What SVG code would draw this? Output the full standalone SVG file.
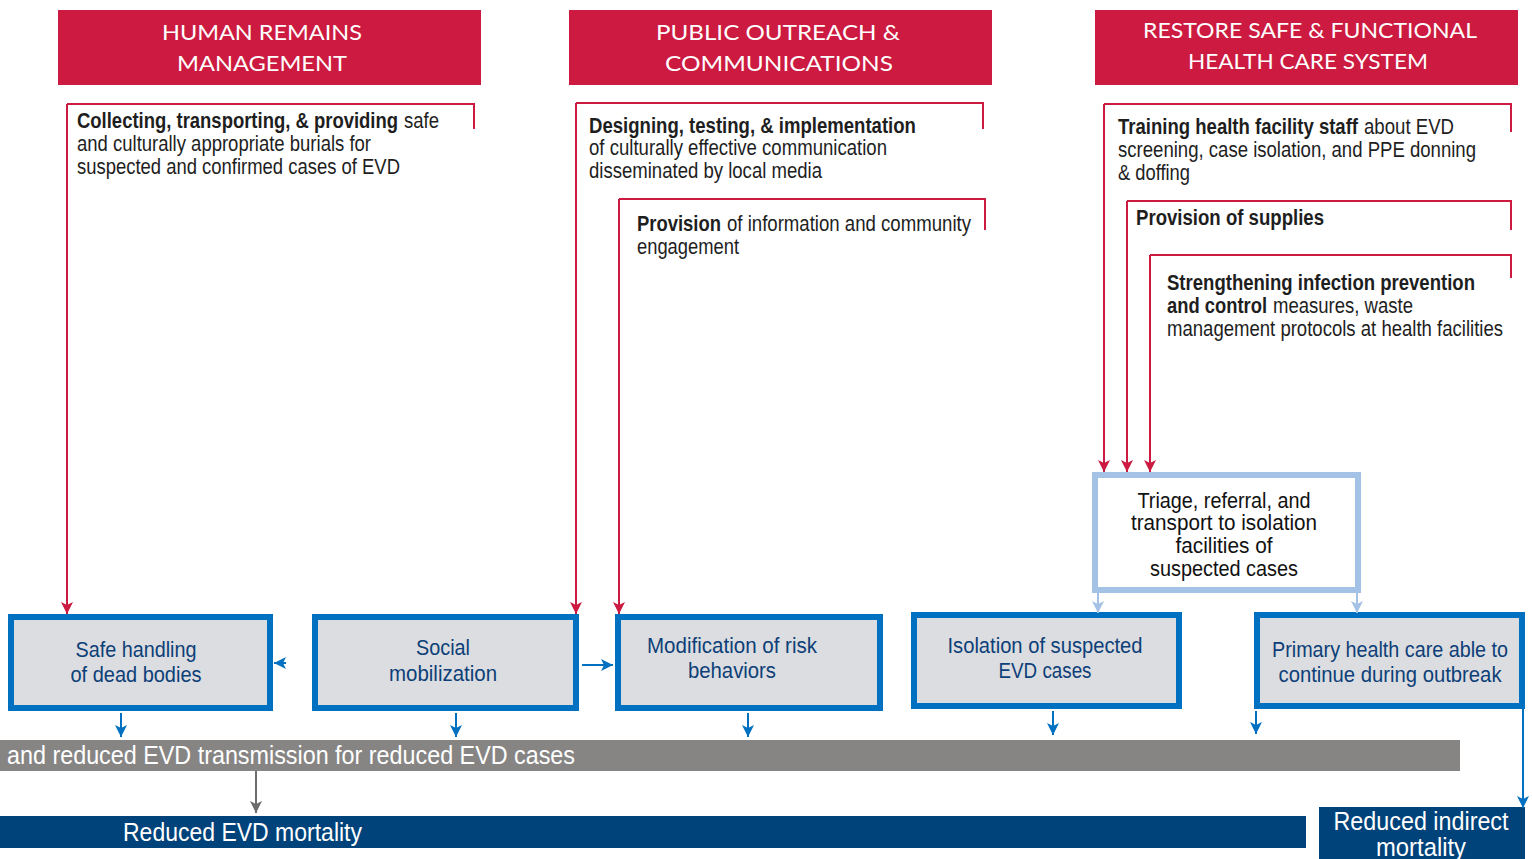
<svg xmlns="http://www.w3.org/2000/svg" width="1532" height="859" viewBox="0 0 1532 859">
<style>
.hdr{fill:#cc1a40}
.hdrt{font-family:"Lato","Open Sans",sans-serif;font-size:21px;fill:#fff;text-anchor:middle}
.body{font-family:"Liberation Sans Narrow","Liberation Sans",Arial,sans-serif;font-size:22px;fill:#1e1e1e}
.b{font-weight:bold}
.red{fill:none;stroke:#cc1a40;stroke-width:2}
.box{fill:#dcdde0;stroke:#0070c0;stroke-width:6}
.boxt{font-family:"Liberation Sans Narrow","Liberation Sans",Arial,sans-serif;font-size:22px;fill:#0d3f78;text-anchor:middle}
.tri{fill:#fff;stroke:#a4c2e6;stroke-width:6}
.trit{font-family:"Liberation Sans Narrow","Liberation Sans",Arial,sans-serif;font-size:22px;fill:#111;text-anchor:middle}
.wt{font-family:"Liberation Sans Narrow","Liberation Sans",Arial,sans-serif;font-size:25px;fill:#fff}
.bl{fill:none;stroke:#0070c0;stroke-width:2}
.lb{fill:none;stroke:#a4c2e6;stroke-width:2}
.gr{fill:none;stroke:#6d6d6d;stroke-width:2}
</style>
<defs>
<marker id="ar" viewBox="0 0 12 12" refX="12" refY="6" markerWidth="12" markerHeight="12" markerUnits="userSpaceOnUse" orient="auto"><path d="M0,0 L12,6 L0,12 L3,6 z" fill="#cc1a40"/></marker>
<marker id="ab" viewBox="0 0 12 12" refX="12" refY="6" markerWidth="12" markerHeight="12" markerUnits="userSpaceOnUse" orient="auto"><path d="M0,0 L12,6 L0,12 L3,6 z" fill="#0070c0"/></marker>
<marker id="al" viewBox="0 0 12 12" refX="12" refY="6" markerWidth="12" markerHeight="12" markerUnits="userSpaceOnUse" orient="auto"><path d="M0,0 L12,6 L0,12 L3,6 z" fill="#a4c2e6"/></marker>
<marker id="ag" viewBox="0 0 12 12" refX="12" refY="6" markerWidth="12" markerHeight="12" markerUnits="userSpaceOnUse" orient="auto"><path d="M0,0 L12,6 L0,12 L3,6 z" fill="#6d6d6d"/></marker>
</defs>
<rect width="1532" height="859" fill="#fff"/>

<g id="header-human-remains">
<rect class="hdr" x="58" y="10" width="423" height="75"/>
<text class="hdrt" x="262" y="40" textLength="200" lengthAdjust="spacingAndGlyphs">HUMAN REMAINS</text>
<text class="hdrt" x="262" y="71" textLength="170" lengthAdjust="spacingAndGlyphs">MANAGEMENT</text>
</g>
<g id="header-public-outreach">
<rect class="hdr" x="569" y="10" width="423" height="75"/>
<text class="hdrt" x="778" y="40" textLength="244" lengthAdjust="spacingAndGlyphs">PUBLIC OUTREACH &amp;</text>
<text class="hdrt" x="779" y="71" textLength="228" lengthAdjust="spacingAndGlyphs">COMMUNICATIONS</text>
</g>
<g id="header-restore">
<rect class="hdr" x="1095" y="10" width="423" height="75"/>
<text class="hdrt" x="1310" y="38" textLength="334" lengthAdjust="spacingAndGlyphs">RESTORE SAFE &amp; FUNCTIONAL</text>
<text class="hdrt" x="1308" y="69" textLength="240" lengthAdjust="spacingAndGlyphs">HEALTH CARE SYSTEM</text>
</g>

<g id="activity-collecting">
<path class="red" d="M474,129 V104 H67"/>
<text class="body b" transform="translate(77,128) scale(0.7,1)" textLength="458.6" lengthAdjust="spacingAndGlyphs">Collecting, transporting, &amp; providing</text>
<text class="body" transform="translate(404,128) scale(0.8,1)" textLength="43.75" lengthAdjust="spacingAndGlyphs">safe</text>
<text class="body" transform="translate(77,151) scale(0.8,1)" textLength="367.5" lengthAdjust="spacingAndGlyphs">and culturally appropriate burials for</text>
<text class="body" transform="translate(77,174) scale(0.8,1)" textLength="403.75" lengthAdjust="spacingAndGlyphs">suspected and confirmed cases of EVD</text>
</g>
<g id="activity-designing">
<path class="red" d="M983,129 V103 H576"/>
<text class="body b" transform="translate(589,133) scale(0.7,1)" textLength="467.1" lengthAdjust="spacingAndGlyphs">Designing, testing, &amp; implementation</text>
<text class="body" transform="translate(589,155) scale(0.8,1)" textLength="372.5" lengthAdjust="spacingAndGlyphs">of culturally effective communication</text>
<text class="body" transform="translate(589,178) scale(0.8,1)" textLength="291.25" lengthAdjust="spacingAndGlyphs">disseminated by local media</text>
</g>
<g id="activity-provision-info">
<path class="red" d="M985,230 V199 H619"/>
<text class="body b" transform="translate(637,231) scale(0.7,1)" textLength="120" lengthAdjust="spacingAndGlyphs">Provision</text>
<text class="body" transform="translate(727,231) scale(0.8,1)" textLength="305" lengthAdjust="spacingAndGlyphs">of information and community</text>
<text class="body" transform="translate(637,254) scale(0.8,1)" textLength="127.5" lengthAdjust="spacingAndGlyphs">engagement</text>
</g>
<g id="activity-training">
<path class="red" d="M1511,132 V104 H1104"/>
<text class="body b" transform="translate(1118,134) scale(0.7,1)" textLength="342.9" lengthAdjust="spacingAndGlyphs">Training health facility staff</text>
<text class="body" transform="translate(1364,134) scale(0.8,1)" textLength="112.5" lengthAdjust="spacingAndGlyphs">about EVD</text>
<text class="body" transform="translate(1118,157) scale(0.8,1)" textLength="447.5" lengthAdjust="spacingAndGlyphs">screening, case isolation, and PPE donning</text>
<text class="body" transform="translate(1118,180) scale(0.8,1)" textLength="90" lengthAdjust="spacingAndGlyphs">&amp; doffing</text>
</g>
<g id="activity-supplies">
<path class="red" d="M1511,230 V201 H1127"/>
<text class="body b" transform="translate(1136,225) scale(0.7,1)" textLength="268.6" lengthAdjust="spacingAndGlyphs">Provision of supplies</text>
</g>
<g id="activity-ipc">
<path class="red" d="M1511,278 V255 H1150"/>
<text class="body b" transform="translate(1167,290) scale(0.7,1)" textLength="440" lengthAdjust="spacingAndGlyphs">Strengthening infection prevention</text>
<text class="body b" transform="translate(1167,313) scale(0.7,1)" textLength="142.9" lengthAdjust="spacingAndGlyphs">and control</text>
<text class="body" transform="translate(1273,313) scale(0.8,1)" textLength="175" lengthAdjust="spacingAndGlyphs">measures, waste</text>
<text class="body" transform="translate(1167,336) scale(0.8,1)" textLength="420" lengthAdjust="spacingAndGlyphs">management protocols at health facilities</text>
</g>

<g id="triage">
<rect class="tri" x="1095" y="475" width="263" height="115"/>
<text class="trit" transform="translate(1224,508) scale(0.8,1)" textLength="216.25" lengthAdjust="spacingAndGlyphs">Triage, referral, and</text>
<text class="trit" transform="translate(1224,530) scale(0.8,1)" textLength="232.5" lengthAdjust="spacingAndGlyphs">transport to isolation</text>
<text class="trit" transform="translate(1224,553) scale(0.8,1)" textLength="121.25" lengthAdjust="spacingAndGlyphs">facilities of</text>
<text class="trit" transform="translate(1224,576) scale(0.8,1)" textLength="185" lengthAdjust="spacingAndGlyphs">suspected cases</text>
</g>

<g id="safe-handling">
<rect class="box" x="11" y="617" width="259" height="91"/>
<text class="boxt" transform="translate(136,657) scale(0.8,1)" textLength="151.25" lengthAdjust="spacingAndGlyphs">Safe handling</text>
<text class="boxt" transform="translate(136,682) scale(0.8,1)" textLength="163.75" lengthAdjust="spacingAndGlyphs">of dead bodies</text>
</g>
<g id="social-mobilization">
<rect class="box" x="315" y="617" width="261" height="91"/>
<text class="boxt" transform="translate(443,655) scale(0.8,1)" textLength="67.5" lengthAdjust="spacingAndGlyphs">Social</text>
<text class="boxt" transform="translate(443,681) scale(0.8,1)" textLength="135" lengthAdjust="spacingAndGlyphs">mobilization</text>
</g>
<g id="modification">
<rect class="box" x="618" y="617" width="262" height="91"/>
<text class="boxt" transform="translate(732,653) scale(0.8,1)" textLength="212.5" lengthAdjust="spacingAndGlyphs">Modification of risk</text>
<text class="boxt" transform="translate(732,678) scale(0.8,1)" textLength="110" lengthAdjust="spacingAndGlyphs">behaviors</text>
</g>
<g id="isolation">
<rect class="box" x="914" y="615" width="265" height="91"/>
<text class="boxt" transform="translate(1045,653) scale(0.8,1)" textLength="243.75" lengthAdjust="spacingAndGlyphs">Isolation of suspected</text>
<text class="boxt" transform="translate(1045,678) scale(0.8,1)" textLength="116.25" lengthAdjust="spacingAndGlyphs">EVD cases</text>
</g>
<g id="primary-health-care">
<rect class="box" x="1257" y="615" width="265" height="91"/>
<text class="boxt" transform="translate(1390,657) scale(0.8,1)" textLength="295" lengthAdjust="spacingAndGlyphs">Primary health care able to</text>
<text class="boxt" transform="translate(1390,682) scale(0.8,1)" textLength="278.75" lengthAdjust="spacingAndGlyphs">continue during outbreak</text>
</g>

<g id="reduced-transmission">
<rect x="0" y="740" width="1460" height="31" fill="#868584"/>
<text class="wt" transform="translate(7,764) scale(0.8,1)" textLength="710" lengthAdjust="spacingAndGlyphs">and reduced EVD transmission for reduced EVD cases</text>
</g>
<g id="reduced-evd-mortality">
<rect x="0" y="816" width="1306" height="32" fill="#00427a"/>
<text class="wt" transform="translate(123,841) scale(0.8,1)" textLength="298.75" lengthAdjust="spacingAndGlyphs">Reduced EVD mortality</text>
</g>
<g id="reduced-indirect-mortality">
<rect x="1319" y="807" width="206" height="52" fill="#00427a"/>
<text class="wt" transform="translate(1421,830) scale(0.8,1)" text-anchor="middle" textLength="218.75" lengthAdjust="spacingAndGlyphs">Reduced indirect</text>
<text class="wt" transform="translate(1421,856) scale(0.8,1)" text-anchor="middle" textLength="112.5" lengthAdjust="spacingAndGlyphs">mortality</text>
</g>

<g id="connectors">
<path class="red" d="M67,104 V614" marker-end="url(#ar)"/>
<path class="red" d="M576,103 V614" marker-end="url(#ar)"/>
<path class="red" d="M619,199 V614" marker-end="url(#ar)"/>
<path class="red" d="M1104,104 V472" marker-end="url(#ar)"/>
<path class="red" d="M1127,201 V472" marker-end="url(#ar)"/>
<path class="red" d="M1150,255 V472" marker-end="url(#ar)"/>
<path class="lb" d="M1098,593 V613" marker-end="url(#al)"/>
<path class="lb" d="M1357,593 V613" marker-end="url(#al)"/>
<path class="bl" d="M286,663 H274" marker-end="url(#ab)"/>
<path class="bl" d="M582,665 H613" marker-end="url(#ab)"/>
<path class="bl" d="M121,713 V737" marker-end="url(#ab)"/>
<path class="bl" d="M456,713 V737" marker-end="url(#ab)"/>
<path class="bl" d="M748,713 V737" marker-end="url(#ab)"/>
<path class="bl" d="M1053,711 V735" marker-end="url(#ab)"/>
<path class="bl" d="M1256,711 V734" marker-end="url(#ab)"/>
<path class="bl" d="M1523,709 V808" marker-end="url(#ab)"/>
<path class="gr" d="M256,771 V813" marker-end="url(#ag)"/>
</g>
</svg>
